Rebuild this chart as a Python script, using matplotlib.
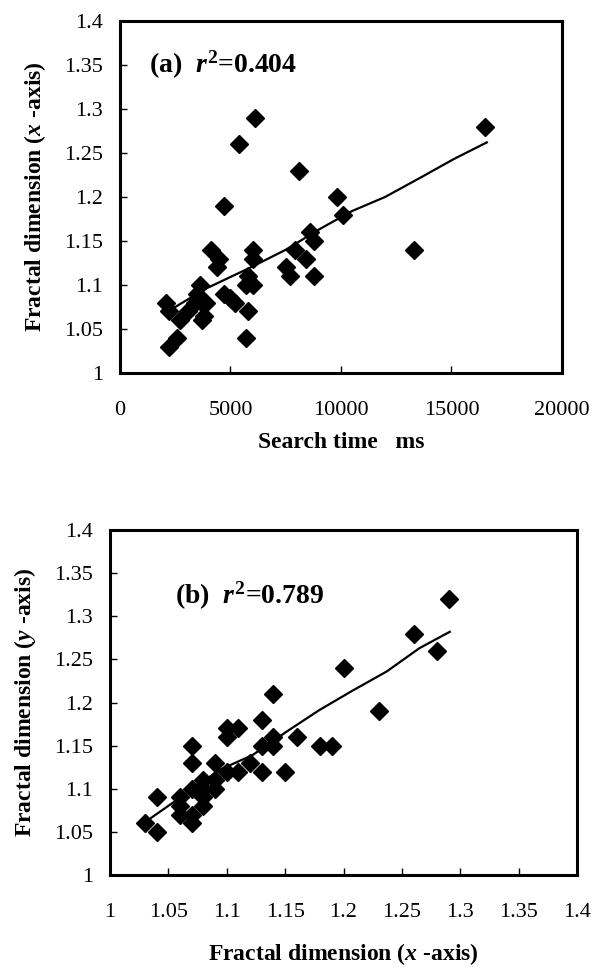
import matplotlib
matplotlib.use("Agg")
import matplotlib.pyplot as plt

plt.rcParams["font.family"] = ["Liberation Serif", "DejaVu Serif"]
plt.rcParams["mathtext.fontset"] = "custom"
plt.rcParams["mathtext.rm"] = "Liberation Serif:bold"
plt.rcParams["mathtext.bf"] = "Liberation Serif:bold"
plt.rcParams["mathtext.it"] = "Liberation Serif:italic:bold"

# (a) search time vs fractal dimension along x
search_ms = [16500, 6100, 5400, 8100, 9800, 4700, 10100, 8600, 8800, 4100,
             6000, 7900, 13300, 4500, 6000, 8400, 4400, 7500, 7700, 8800,
             5800, 3600, 5700, 6000, 3500, 4700, 5000, 3700, 5200, 2100,
             2200, 3400, 3900, 3100, 5800, 2700, 3700, 3800, 5700, 2600, 2200]
fd_x_a = [1.28, 1.29, 1.26, 1.23, 1.20, 1.19, 1.18, 1.16, 1.15, 1.14,
          1.14, 1.14, 1.14, 1.13, 1.13, 1.13, 1.12, 1.12, 1.11, 1.11,
          1.11, 1.10, 1.10, 1.10, 1.09, 1.09, 1.085, 1.08, 1.08, 1.08,
          1.07, 1.08, 1.08, 1.07, 1.07, 1.06, 1.06, 1.065, 1.04, 1.04, 1.03]
trend_a_x = [2500, 3900, 6000, 7500, 9000, 10500, 12000, 13600, 15100, 16600]
trend_a_y = [1.075, 1.096, 1.121, 1.140, 1.163, 1.184, 1.200, 1.222, 1.243, 1.262]

# (b) fractal dimension along x vs along y
fd_x_b = [1.29, 1.26, 1.28, 1.20, 1.23, 1.14, 1.13, 1.10, 1.11, 1.10,
          1.14, 1.13, 1.14, 1.16, 1.18, 1.19, 1.07, 1.07, 1.09, 1.12,
          1.10, 1.11, 1.13, 1.15, 1.08, 1.09, 1.07, 1.08, 1.04, 1.06,
          1.06, 1.08, 1.06, 1.07, 1.07, 1.03, 1.04, 1.08, 1.09]
fd_y_b = [1.32, 1.28, 1.26, 1.24, 1.19, 1.21, 1.18, 1.17, 1.17, 1.16,
          1.16, 1.15, 1.15, 1.16, 1.15, 1.15, 1.15, 1.13, 1.13, 1.13,
          1.12, 1.12, 1.12, 1.12, 1.11, 1.11, 1.10, 1.09, 1.09, 1.09,
          1.08, 1.08, 1.07, 1.07, 1.06, 1.06, 1.05, 1.10, 1.10]
trend_b_x = [1.035, 1.094, 1.122, 1.151, 1.179, 1.208, 1.237, 1.265, 1.291]
trend_b_y = [1.066, 1.122, 1.139, 1.166, 1.191, 1.214, 1.236, 1.263, 1.282]

fd_ticks = [1, 1.05, 1.1, 1.15, 1.2, 1.25, 1.3, 1.35, 1.4]
fd_labels = ["1", "1.05", "1.1", "1.15", "1.2", "1.25", "1.3", "1.35", "1.4"]
time_ticks = [0, 5000, 10000, 15000, 20000]


def style_axes(ax):
    for sp in ax.spines.values():
        sp.set_linewidth(2.2)
    ax.tick_params(direction="in", length=5, width=1, labelsize=16,
                   top=False, right=False)
    ax.tick_params(axis="x", pad=20)
    ax.tick_params(axis="y", pad=12)


fig = plt.figure(figsize=(5.94, 9.69), dpi=100)

ax1 = fig.add_axes([0.2020, 0.6151, 0.7441, 0.3633])
ax1.plot(search_ms, fd_x_a, "D", color="black", ms=9, mec="black")
ax1.plot(trend_a_x, trend_a_y, color="black", lw=1.6)
ax1.set_xlim(0, 20000)
ax1.set_ylim(1, 1.4)
ax1.set_xticks(time_ticks)
ax1.set_xticklabels([str(t) for t in time_ticks])
ax1.set_yticks(fd_ticks)
ax1.set_yticklabels(fd_labels)
style_axes(ax1)
ax1.set_xlabel("Search time   ms", fontsize=17, fontweight="bold", labelpad=9)
ax1.set_ylabel("Fractal dimension ($x$ -axis)", fontsize=17, fontweight="bold", labelpad=12)
ax1.text(0.065, 0.875, "(a)  $r^{2}$=0.404", transform=ax1.transAxes,
         fontsize=20, fontweight="bold", va="center")

ax2 = fig.add_axes([0.1852, 0.0970, 0.7862, 0.3560])
ax2.plot(fd_x_b, fd_y_b, "D", color="black", ms=9, mec="black")
ax2.plot(trend_b_x, trend_b_y, color="black", lw=1.6)
ax2.set_xlim(1, 1.4)
ax2.set_ylim(1, 1.4)
ax2.set_xticks(fd_ticks)
ax2.set_xticklabels(fd_labels)
ax2.set_yticks(fd_ticks)
ax2.set_yticklabels(fd_labels)
style_axes(ax2)
ax2.set_xlabel("Fractal dimension ($x$ -axis)", fontsize=17, fontweight="bold", labelpad=14)
ax2.set_ylabel("Fractal dimension ($y$ -axis)", fontsize=17, fontweight="bold", labelpad=12)
ax2.text(0.14, 0.81, "(b)  $r^{2}$=0.789", transform=ax2.transAxes,
         fontsize=20, fontweight="bold", va="center")

fig.savefig("out.png", dpi=100)
plt.close(fig)
